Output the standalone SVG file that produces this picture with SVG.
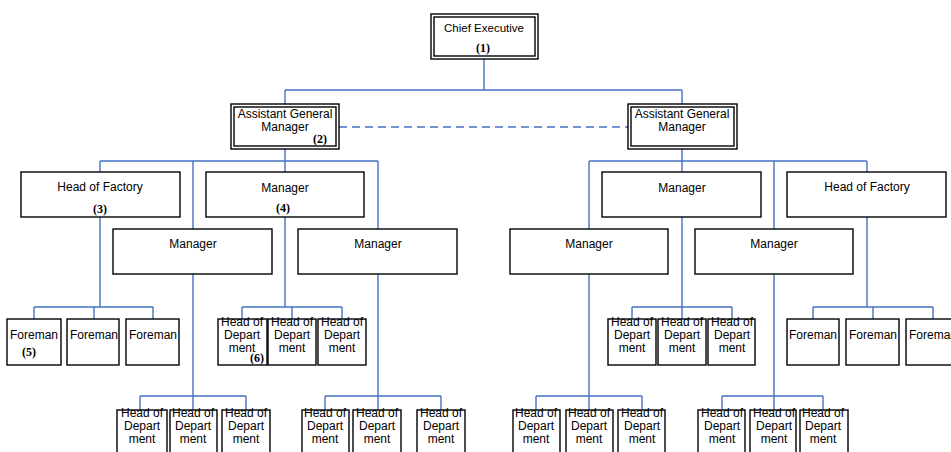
<svg xmlns="http://www.w3.org/2000/svg" width="951" height="452" viewBox="0 0 951 452">
<style>
.b{fill:#fff;stroke:#000;stroke-width:1.4}
.t{font-family:"Liberation Sans",Arial,sans-serif;font-size:12px;fill:#000;text-anchor:middle}
.s{font-size:11.5px}
.n{font-family:"Liberation Serif","Times New Roman",serif;font-weight:bold;font-size:12px;fill:#000;text-anchor:middle}
.c{fill:none;stroke:#4472C4;stroke-width:1.4}
.d{fill:none;stroke:#4472C4;stroke-width:1.4;stroke-dasharray:8 5}
</style>
<rect width="951" height="452" fill="#fff"/>
<g id="connectors">
<path class="c" d="M484 58V90M285 90H682M285 90V104M682 90V104"/>
<path class="d" d="M339 127H628"/>
<path class="c" d="M285 148V172M100 161H378M100 161V172M193 161V229M378 161V229"/>
<path class="c" d="M682 148V172M589 161H867M589 161V229M774 161V229M867 161V172"/>
<path class="c" d="M100 217V307M34 307H153M34 307V319M94 307V319M153 307V319"/>
<path class="c" d="M285 217V307M242 307H342M242 307V319M292 307V319M342 307V319"/>
<path class="c" d="M193 274V396M140 396H246M140 396V410M193 396V410M246 396V410"/>
<path class="c" d="M378 274V396M325 396H441M325 396V410M378 396V410M441 396V410"/>
<path class="c" d="M682 217V307M632 307H732M632 307V319M682 307V319M732 307V319"/>
<path class="c" d="M867 217V307M813 307H933M813 307V319M873 307V319M933 307V319"/>
<path class="c" d="M589 274V396M536 396H642M536 396V410M589 396V410M642 396V410"/>
<path class="c" d="M774 274V396M722 396H823M722 396V410M774 396V410M823 396V410"/>
</g>
<g id="chief">
<rect class="b" x="431" y="14" width="107" height="45"/>
<rect class="b" x="434" y="17" width="101" height="39"/>
<text class="t s" x="484" y="32">Chief Executive</text>
<text class="n" x="483" y="52">(1)</text>
</g>
<g id="agm-left">
<rect class="b" x="231" y="104" width="108" height="45"/>
<rect class="b" x="234" y="107" width="102" height="39"/>
<text class="t" x="285" y="118">Assistant General</text>
<text class="t" x="285" y="131">Manager</text>
<text class="n" x="320" y="143">(2)</text>
</g>
<g id="agm-right">
<rect class="b" x="628" y="104" width="109" height="45"/>
<rect class="b" x="631" y="107" width="103" height="39"/>
<text class="t" x="682" y="118">Assistant General</text>
<text class="t" x="682" y="131">Manager</text>
</g>
<g id="hof-left">
<rect class="b" x="21" y="172" width="159" height="45"/>
<text class="t" x="100" y="191">Head of Factory</text>
<text class="n" x="100" y="213">(3)</text>
</g>
<g id="mgr-4">
<rect class="b" x="206" y="172" width="158" height="45"/>
<text class="t" x="285" y="192">Manager</text>
<text class="n" x="283" y="212">(4)</text>
</g>
<g id="mgr-l1">
<rect class="b" x="113" y="229" width="159" height="45"/>
<text class="t" x="193" y="248">Manager</text>
</g>
<g id="mgr-l2">
<rect class="b" x="298" y="229" width="159" height="45"/>
<text class="t" x="378" y="248">Manager</text>
</g>
<g id="mgr-r-top">
<rect class="b" x="602" y="172" width="159" height="45"/>
<text class="t" x="682" y="192">Manager</text>
</g>
<g id="hof-right">
<rect class="b" x="787" y="172" width="159" height="45"/>
<text class="t" x="867" y="191">Head of Factory</text>
</g>
<g id="mgr-r1">
<rect class="b" x="510" y="229" width="158" height="45"/>
<text class="t" x="589" y="248">Manager</text>
</g>
<g id="mgr-r2">
<rect class="b" x="695" y="229" width="158" height="45"/>
<text class="t" x="774" y="248">Manager</text>
</g>
<g id="foreman-l1"><rect class="b" x="7" y="319" width="54" height="46"/><text class="t" x="34" y="339">Foreman</text><text class="n" x="29" y="356">(5)</text></g>
<g id="foreman-l2"><rect class="b" x="67" y="319" width="52" height="46"/><text class="t" x="94" y="339">Foreman</text></g>
<g id="foreman-l3"><rect class="b" x="126" y="319" width="53" height="46"/><text class="t" x="153" y="339">Foreman</text></g>
<g id="foreman-r1"><rect class="b" x="787" y="319" width="52" height="46"/><text class="t" x="813" y="339">Foreman</text></g>
<g id="foreman-r2"><rect class="b" x="846" y="319" width="53" height="46"/><text class="t" x="873" y="339">Foreman</text></g>
<g id="foreman-r3"><rect class="b" x="906" y="319" width="54" height="46"/><text class="t" x="933" y="339">Foreman</text></g>
<g id="hod-m1"><rect class="b" x="218" y="319" width="49" height="46"/><text class="t" x="242" y="326">Head of</text><text class="t" x="242" y="339">Depart</text><text class="t" x="242" y="352">ment</text><text class="n" x="257" y="362">(6)</text></g>
<g id="hod-m2"><rect class="b" x="268" y="319" width="48" height="46"/><text class="t" x="292" y="326">Head of</text><text class="t" x="292" y="339">Depart</text><text class="t" x="292" y="352">ment</text></g>
<g id="hod-m3"><rect class="b" x="318" y="319" width="48" height="46"/><text class="t" x="342" y="326">Head of</text><text class="t" x="342" y="339">Depart</text><text class="t" x="342" y="352">ment</text></g>
<g id="hod-m4"><rect class="b" x="608" y="319" width="48" height="46"/><text class="t" x="632" y="326">Head of</text><text class="t" x="632" y="339">Depart</text><text class="t" x="632" y="352">ment</text></g>
<g id="hod-m5"><rect class="b" x="658" y="319" width="48" height="46"/><text class="t" x="682" y="326">Head of</text><text class="t" x="682" y="339">Depart</text><text class="t" x="682" y="352">ment</text></g>
<g id="hod-m6"><rect class="b" x="708" y="319" width="47" height="46"/><text class="t" x="732" y="326">Head of</text><text class="t" x="732" y="339">Depart</text><text class="t" x="732" y="352">ment</text></g>
<g id="hod-b1"><rect class="b" x="117" y="410" width="50" height="50"/><text class="t" x="142" y="417">Head of</text><text class="t" x="142" y="430">Depart</text><text class="t" x="142" y="443">ment</text></g>
<g id="hod-b2"><rect class="b" x="170" y="410" width="47" height="50"/><text class="t" x="193" y="417">Head of</text><text class="t" x="193" y="430">Depart</text><text class="t" x="193" y="443">ment</text></g>
<g id="hod-b3"><rect class="b" x="222" y="410" width="48" height="50"/><text class="t" x="246" y="417">Head of</text><text class="t" x="246" y="430">Depart</text><text class="t" x="246" y="443">ment</text></g>
<g id="hod-b4"><rect class="b" x="302" y="410" width="47" height="50"/><text class="t" x="325" y="417">Head of</text><text class="t" x="325" y="430">Depart</text><text class="t" x="325" y="443">ment</text></g>
<g id="hod-b5"><rect class="b" x="353" y="410" width="48" height="50"/><text class="t" x="377" y="417">Head of</text><text class="t" x="377" y="430">Depart</text><text class="t" x="377" y="443">ment</text></g>
<g id="hod-b6"><rect class="b" x="417" y="410" width="48" height="50"/><text class="t" x="441" y="417">Head of</text><text class="t" x="441" y="430">Depart</text><text class="t" x="441" y="443">ment</text></g>
<g id="hod-b7"><rect class="b" x="513" y="410" width="47" height="50"/><text class="t" x="536" y="417">Head of</text><text class="t" x="536" y="430">Depart</text><text class="t" x="536" y="443">ment</text></g>
<g id="hod-b8"><rect class="b" x="566" y="410" width="47" height="50"/><text class="t" x="589" y="417">Head of</text><text class="t" x="589" y="430">Depart</text><text class="t" x="589" y="443">ment</text></g>
<g id="hod-b9"><rect class="b" x="618" y="410" width="47" height="50"/><text class="t" x="642" y="417">Head of</text><text class="t" x="642" y="430">Depart</text><text class="t" x="642" y="443">ment</text></g>
<g id="hod-b10"><rect class="b" x="698" y="410" width="47" height="50"/><text class="t" x="722" y="417">Head of</text><text class="t" x="722" y="430">Depart</text><text class="t" x="722" y="443">ment</text></g>
<g id="hod-b11"><rect class="b" x="750" y="410" width="46" height="50"/><text class="t" x="774" y="417">Head of</text><text class="t" x="774" y="430">Depart</text><text class="t" x="774" y="443">ment</text></g>
<g id="hod-b12"><rect class="b" x="800" y="410" width="48" height="50"/><text class="t" x="823" y="417">Head of</text><text class="t" x="823" y="430">Depart</text><text class="t" x="823" y="443">ment</text></g>
</svg>
